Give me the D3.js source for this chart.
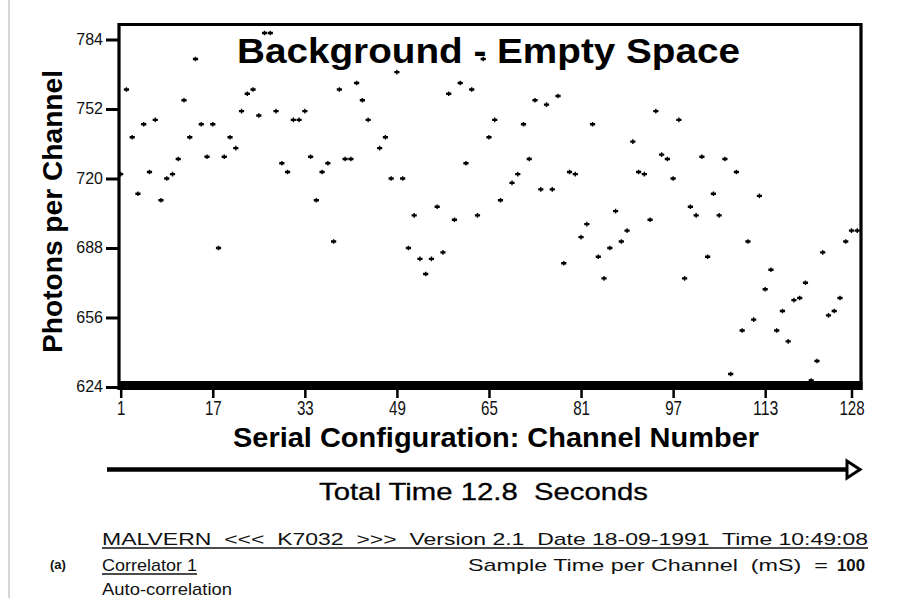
<!DOCTYPE html>
<html>
<head>
<meta charset="utf-8">
<script src="https://cdn.jsdelivr.net/npm/d3@7"></script>
<style>
  html, body { margin: 0; padding: 0; background: #fff; }
  svg { display: block; font-family: "Liberation Sans", Arial, Helvetica, sans-serif; }
  text { white-space: pre; }
</style>
</head>
<body>
<div id="chart"></div>
<script>

// ----------------------------------------------------------------
// Data
// ----------------------------------------------------------------

// photons counted in each channel, channel 1 first
const photons = [
  722, 761, 739, 713, 745, 723, 747, 710, 720, 722,
  729, 756, 739, 775, 745, 730, 745, 688, 730, 739,
  734, 751, 759, 761, 749, 787, 787, 751, 727, 723,
  747, 747, 751, 730, 710, 723, 727, 691, 761, 729,
  729, 764, 756, 747, 624, 734, 739, 720, 769, 720,
  688, 703, 683, 676, 683, 707, 686, 759, 701, 764,
  727, 761, 703, 775, 739, 747, 710, 624, 718, 722,
  745, 729, 756, 715, 754, 715, 758, 681, 723, 722,
  693, 699, 745, 684, 674, 688, 705, 691, 696, 737,
  723, 722, 701, 751, 731, 729, 720, 747, 674, 707,
  703, 730, 684, 713, 703, 729, 630, 723, 650, 691,
  655, 712, 669, 678, 650, 659, 645, 664, 665, 672,
  627, 636, 686, 657, 659, 665, 691, 696, 696
];
const channels = photons.map((d, i) => i + 1);

const xTicks = [1, 17, 33, 49, 65, 81, 97, 113, 128];
const yTicks = [624, 656, 688, 720, 752, 784];

const titleText = "Background - Empty Space";
const yLabelText = "Photons per Channel";
const xLabelText = "Serial Configuration: Channel Number";
const timeText = "Total Time 12.8  Seconds";
const headerText = "MALVERN  <<<  K7032  >>>  Version 2.1  Date 18-09-1991  Time 10:49:08";
const sampleText = "Sample Time per Channel  (mS)  =";
const sampleValue = "100";

// ----------------------------------------------------------------
// Drawing
// ----------------------------------------------------------------

const width = 902;
const height = 598;

const svg = d3.select("#chart").append("svg")
  .attr("width", width)
  .attr("height", height);

const x = d3.scaleLinear().domain([1, 128]).range([120.7, 851.5]);
const y = d3.scaleLinear().domain([624, 784]).range([387, 39.5]);

const frame = { left: 119, right: 861, top: 24.5, bottom: 390 };

// page edge on the left
svg.append("line")
  .attr("x1", 9).attr("x2", 9).attr("y1", 0).attr("y2", height)
  .attr("stroke", "#c8c8c8").attr("stroke-width", 1.5);

// axes
const yAxis = svg.append("g")
  .attr("transform", "translate(" + (frame.left - 1) + ",0)")
  .call(d3.axisLeft(y).tickValues(yTicks).tickSize(12).tickPadding(3));
yAxis.select(".domain").remove();
yAxis.selectAll(".tick line").attr("stroke", "#000").attr("stroke-width", 3);
yAxis.selectAll(".tick text")
  .attr("font-size", 16).attr("font-family", null).attr("fill", "#111")
  .attr("dy", "0.3em");

const xAxis = svg.append("g")
  .attr("transform", "translate(0," + (frame.bottom - 1) + ")")
  .call(d3.axisBottom(x).tickValues(xTicks).tickSize(9).tickPadding(2));
xAxis.select(".domain").remove();
xAxis.selectAll(".tick line").attr("stroke", "#000").attr("stroke-width", 2.5);
xAxis.selectAll(".tick text")
  .attr("font-size", 21).attr("font-family", null).attr("fill", "#111")
  .attr("textLength", d => String(d).length * 8.4)
  .attr("lengthAdjust", "spacingAndGlyphs");

// plot frame and the thick base bar at 624
svg.append("rect")
  .attr("x", frame.left - 1).attr("y", 381)
  .attr("width", frame.right - frame.left + 2.5).attr("height", 9)
  .attr("fill", "#000");
svg.append("path")
  .attr("d", "M" + frame.left + "," + frame.bottom + "V" + frame.top + "H" + frame.right + "V" + frame.bottom)
  .attr("fill", "none").attr("stroke", "#000").attr("stroke-width", 3.2);

// title inside the frame
svg.append("text")
  .attr("x", 237).attr("y", 63)
  .attr("font-size", 35).attr("font-weight", "bold")
  .attr("textLength", 503).attr("lengthAdjust", "spacingAndGlyphs")
  .text(titleText);

// points
const marker = "M-2.6,-1.2H2.6V1.2H-2.6Z M-0.7,-2.3H0.7V2.3H-0.7Z";
svg.append("g").selectAll("path")
  .data(channels)
  .join("path")
  .attr("transform", c => "translate(" + x(c) + "," + y(photons[c - 1]) + ")")
  .attr("d", marker)
  .attr("fill", "#000");

// axis titles
svg.append("text")
  .attr("transform", "translate(61.5,211.5) rotate(-90)")
  .attr("text-anchor", "middle")
  .attr("font-size", 28).attr("font-weight", "bold")
  .attr("textLength", 283).attr("lengthAdjust", "spacingAndGlyphs")
  .text(yLabelText);

svg.append("text")
  .attr("x", 233).attr("y", 447)
  .attr("font-size", 28).attr("font-weight", "bold")
  .attr("textLength", 526).attr("lengthAdjust", "spacingAndGlyphs")
  .text(xLabelText);

// time arrow
svg.append("line")
  .attr("x1", 107).attr("x2", 848).attr("y1", 469.5).attr("y2", 469.5)
  .attr("stroke", "#000").attr("stroke-width", 4.5);
svg.append("path")
  .attr("d", "M847,461L860,469.5L847,478Z")
  .attr("fill", "#fff").attr("stroke", "#000").attr("stroke-width", 3)
  .attr("stroke-linejoin", "miter");

svg.append("text")
  .attr("x", 319).attr("y", 500)
  .attr("font-size", 24)
  .attr("stroke", "#000").attr("stroke-width", 0.3)
  .attr("textLength", 329).attr("lengthAdjust", "spacingAndGlyphs")
  .text(timeText);

// footer block
const footer = svg.append("g").attr("font-size", 17).attr("fill", "#111");

footer.append("text")
  .attr("x", 102).attr("y", 545)
  .attr("textLength", 766).attr("lengthAdjust", "spacingAndGlyphs")
  .text(headerText);
footer.append("line")
  .attr("x1", 102).attr("x2", 868).attr("y1", 548).attr("y2", 548)
  .attr("stroke", "#111").attr("stroke-width", 1.3);

footer.append("text")
  .attr("x", 50).attr("y", 569)
  .attr("font-size", 13).attr("font-weight", "bold")
  .text("(a)");

footer.append("text")
  .attr("x", 102).attr("y", 571)
  .attr("textLength", 95).attr("lengthAdjust", "spacingAndGlyphs")
  .text("Correlator 1");
footer.append("line")
  .attr("x1", 102).attr("x2", 197).attr("y1", 574).attr("y2", 574)
  .attr("stroke", "#111").attr("stroke-width", 1.3);

footer.append("text")
  .attr("x", 468).attr("y", 571)
  .attr("textLength", 360).attr("lengthAdjust", "spacingAndGlyphs")
  .text(sampleText);
footer.append("text")
  .attr("x", 837).attr("y", 571)
  .attr("font-weight", "bold")
  .attr("textLength", 28).attr("lengthAdjust", "spacingAndGlyphs")
  .text(sampleValue);

footer.append("text")
  .attr("x", 102).attr("y", 595)
  .attr("textLength", 130).attr("lengthAdjust", "spacingAndGlyphs")
  .text("Auto-correlation");

</script>
</body>
</html>
